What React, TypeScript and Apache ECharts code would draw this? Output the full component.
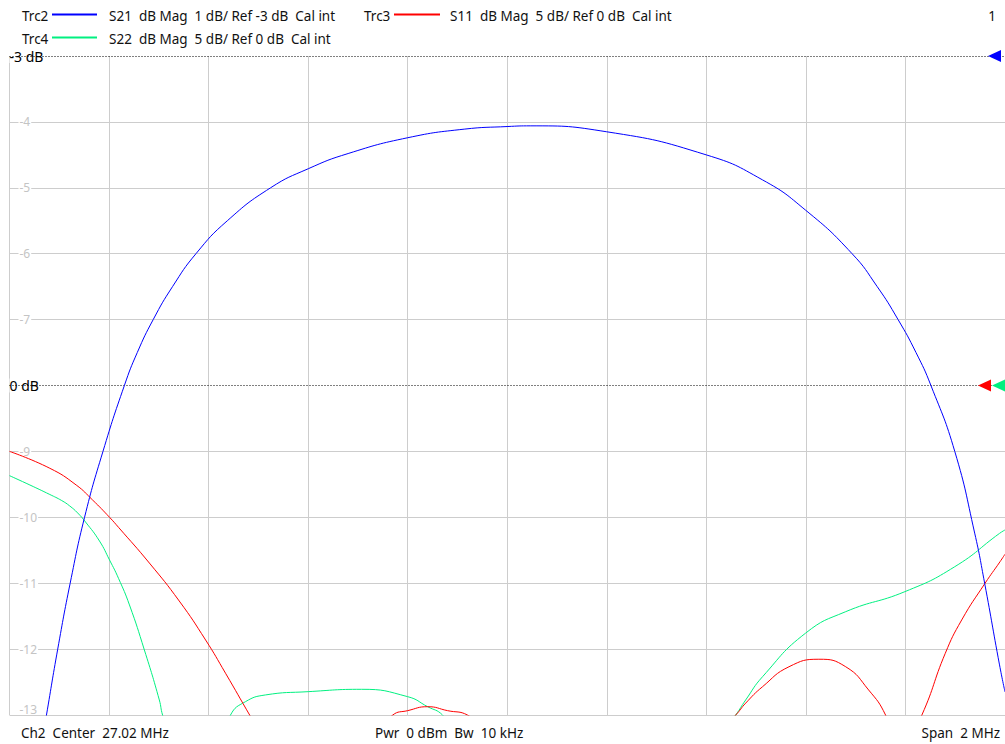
import React, { useEffect, useRef } from "react";
import * as echarts from "echarts";

// ---- Sweep settings ----
const CENTER_MHZ = 27.02;
const SPAN_MHZ = 2;
const FOOTER_TEXTS = ["Ch2  Center  27.02 MHz", "Pwr  0 dBm  Bw  10 kHz", "Span  2 MHz"];

// ---- Trace headers ----
const TRACE_NAMES = ["Trc2", "Trc3", "Trc4"];
const TRACE_DESCS = [
  "S21  dB Mag  1 dB/ Ref -3 dB  Cal int",
  "S11  dB Mag  5 dB/ Ref 0 dB  Cal int",
  "S22  dB Mag  5 dB/ Ref 0 dB  Cal int",
];
const TRACE_COLORS = ["#0000ff", "#ff0000", "#00f080"];

// ---- Axis ticks ----
const PRIMARY_TICKS = [-13, -12, -11, -10, -9, -8, -7, -6, -5, -4, -3]; // 1 dB/div, ref -3 dB
const S21_REF = -3;
const S11_S22_REF = 0; // 5 dB/div

// ---- S21 (dB) ----
const S21_FREQ = [26.0809, 26.0943, 26.1169, 26.1419, 26.1708, 26.2078, 26.2508, 26.2767, 26.3087, 26.3475, 26.3946, 26.4576, 26.5445, 26.6204, 26.7003, 26.8202, 26.9335, 27.0214, 27.066, 27.2199, 27.4197, 27.5329, 27.6195, 27.7128, 27.7633, 27.8052, 27.8412, 27.8712, 27.9191, 27.9591, 27.9791, 28.009, 28.02];
const S21_DB = [-13.6, -13.0, -12.0, -11.0, -10.0, -9.0, -8.0, -7.5, -7.0, -6.5, -6.0, -5.5, -5.0, -4.71, -4.48, -4.24, -4.11, -4.07, -4.06, -4.15, -4.5, -4.88, -5.34, -6.0, -6.5, -7.0, -7.5, -8.0, -9.0, -10.24, -11.0, -12.24, -12.65];

// ---- S11 (dB) ----
const S11_FREQ = [26.02, 26.101, 26.154, 26.187, 26.221, 26.239, 26.301, 26.361, 26.414, 26.454, 26.504, 26.58, 26.68, 26.76, 26.79, 26.82, 26.86, 26.9, 26.94, 27.0, 27.2, 27.4, 27.479, 27.499, 27.533, 27.586, 27.646, 27.7, 27.746, 27.78, 27.81, 27.853, 27.9, 27.933, 27.98, 28.01, 28.02];
const S11_DB = [-5.0, -6.28, -7.55, -8.69, -10.0, -10.76, -13.47, -16.35, -19.31, -21.83, -25.1, -30, -31, -26.5, -25.0, -24.67, -24.37, -24.67, -25.0, -27, -32, -28, -25.0, -24.1, -22.85, -21.34, -20.77, -21.34, -23.1, -25.0, -28, -25.0, -20.32, -17.79, -15.0, -13.37, -12.8];

// ---- S22 (dB) ----
const S22_FREQ = [26.02, 26.061, 26.101, 26.1249, 26.141, 26.1569, 26.1728, 26.2008, 26.221, 26.239, 26.261, 26.291, 26.321, 26.3275, 26.361, 26.421, 26.464, 26.494, 26.534, 26.62, 26.727, 26.82, 26.86, 26.89, 26.96, 27.2, 27.42, 27.479, 27.499, 27.533, 27.619, 27.7, 27.819, 27.919, 28.009, 28.02];
const S22_DB = [-6.84, -7.55, -8.27, -8.73, -9.14, -9.67, -10.36, -11.8, -13.24, -14.63, -16.65, -20.07, -23.86, -25.0, -29, -29, -25.0, -23.99, -23.48, -23.23, -23.05, -23.61, -24.37, -25.0, -28, -32, -28, -25.0, -23.86, -22.09, -18.8, -17.16, -15.64, -13.75, -11.22, -10.96];

const FONT = "'Noto Sans', 'Open Sans', sans-serif";
const FONT_PX = 13.5;

export default function App() {
  const ref = useRef<HTMLDivElement>(null);

  useEffect(() => {
    if (!ref.current) return;
    const chart = echarts.init(ref.current, null, { renderer: "svg" });

    const half = SPAN_MHZ / 2;
    const pts = (f: number[], v: number[]) =>
      f.map((x, i) => [Math.round((x - CENTER_MHZ) * 10000) / 10000, v[i]]);

    const splitColors = PRIMARY_TICKS.map((t) =>
      t === S21_REF || t === -8 ? "rgba(0,0,0,0)" : "#cdcdcd"
    );

    const refLine = (yAxisIndex: number, value: number) => ({
      type: "line",
      yAxisIndex,
      data: [],
      z: 1,
      silent: true,
      markLine: {
        silent: true,
        symbol: "none",
        label: { show: false },
        lineStyle: { color: "#000", width: 1, type: [1, 2] },
        data: [{ yAxis: value }],
      },
    });

    const refMarker = (color: string, value: number, offset: number) => ({
      symbol: "triangle",
      symbolRotate: 90,
      symbolSize: [12, 13],
      symbolOffset: [offset, 0],
      silent: true,
      label: { show: false },
      itemStyle: { color },
      data: [{ coord: [half, value] }],
    });

    const curve = (
      name: string,
      color: string,
      data: number[][],
      yAxisIndex: number,
      marker: any
    ) => ({
      name,
      type: "line",
      yAxisIndex,
      data,
      showSymbol: false,
      smooth: 0.5,
      clip: true,
      z: 5,
      lineStyle: { color, width: 1 },
      itemStyle: { color },
      markPoint: marker,
    });

    const headerY = [15.5, 15.5, 38.5];
    const headerX = [22, 364, 22];
    const lineX = [
      [52, 97],
      [394, 440],
      [52, 97],
    ];
    const descX = [109, 450, 109];
    const header: any[] = [];
    const font = `${FONT_PX}px ${FONT}`;
    TRACE_NAMES.forEach((n, i) => {
      header.push({
        type: "text",
        x: headerX[i],
        y: headerY[i],
        style: { text: n, font, fill: "#111", verticalAlign: "middle" },
      });
      header.push({
        type: "line",
        shape: { x1: lineX[i][0], y1: headerY[i] - 1, x2: lineX[i][1], y2: headerY[i] - 1 },
        style: { stroke: TRACE_COLORS[i], lineWidth: 2 },
      });
      header.push({
        type: "text",
        x: descX[i],
        y: headerY[i],
        style: { text: TRACE_DESCS[i], font, fill: "#111", verticalAlign: "middle" },
      });
    });
    header.push({
      type: "text",
      x: 996,
      y: 15.5,
      style: { text: "1", font, fill: "#111", align: "right", verticalAlign: "middle" },
    });
    const footerX = [21, 375, 1000];
    const footerAlign = ["left", "left", "right"];
    FOOTER_TEXTS.forEach((t, i) => {
      header.push({
        type: "text",
        x: footerX[i],
        y: 733,
        style: { text: t, font, fill: "#111", align: footerAlign[i], verticalAlign: "middle" },
      });
    });

    chart.setOption({
      animation: false,
      backgroundColor: "#fff",
      textStyle: { fontFamily: FONT },
      grid: { left: 9.5, top: 56, width: 1001, height: 659, containLabel: false },
      xAxis: {
        type: "value",
        min: -half,
        max: half,
        interval: 0.2,
        z: 0,
        axisLine: { show: false },
        axisTick: { show: false },
        axisLabel: { show: false },
        splitLine: { show: true, lineStyle: { color: "#cdcdcd", width: 1 } },
      },
      yAxis: [
        {
          type: "value",
          min: PRIMARY_TICKS[0],
          max: PRIMARY_TICKS[PRIMARY_TICKS.length - 1],
          interval: 1,
          z: 3,
          axisLine: { show: false },
          axisTick: { show: false },
          splitLine: { show: true, lineStyle: { color: splitColors, width: 1 } },
          axisLabel: {
            inside: true,
            margin: 0,
            verticalAlignMinLabel: "bottom",
            formatter: (v: number) =>
              v === S21_REF
                ? `{b|${S21_REF} dB}`
                : v === -8
                ? `{b|${S11_S22_REF} dB}`
                : `{sp|}{g|${v}}`,
            rich: {
              b: { color: "#000", fontSize: 14, fontFamily: FONT, backgroundColor: "#fff", padding: [0, 1, 0, 0] },
              g: { color: "#c4c4c4", fontSize: 12, fontFamily: FONT, backgroundColor: "#fff", padding: [0, 1, 0, 1] },
              sp: { width: 9 },
            },
          },
        },
        {
          type: "value",
          min: -25,
          max: 25,
          interval: 5,
          show: false,
        },
      ],
      graphic: header,
      series: [
        refLine(0, S21_REF),
        refLine(1, S11_S22_REF),
        curve("S22", TRACE_COLORS[2], pts(S22_FREQ, S22_DB), 1, refMarker(TRACE_COLORS[2], S11_S22_REF, -6.5)),
        curve("S11", TRACE_COLORS[1], pts(S11_FREQ, S11_DB), 1, refMarker(TRACE_COLORS[1], S11_S22_REF, -20.5)),
        curve("S21", TRACE_COLORS[0], pts(S21_FREQ, S21_DB), 0, refMarker(TRACE_COLORS[0], S21_REF, -10.5)),
      ],
    });

    return () => chart.dispose();
  }, []);

  return (
    <div
      ref={ref}
      style={{ position: "fixed", left: 0, top: 0, width: 1005, height: 744, background: "#fff" }}
    />
  );
}
